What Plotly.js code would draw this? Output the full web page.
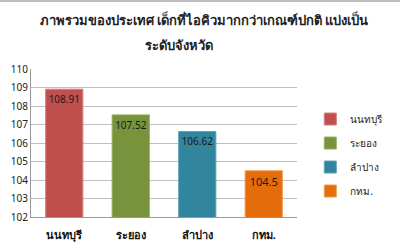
<!DOCTYPE html>
<html><head><meta charset="utf-8">
<script src="https://cdn.plot.ly/plotly-3.0.1.min.js"></script>
<style>html,body{margin:0;padding:0;background:#fff;}#chart{width:400px;height:250px;border-top:2px solid #bdbdbd;box-sizing:border-box;}</style>
</head><body><div id="chart"></div>
<script>
const categories = ["นนทบุรี", "ระยอง", "ลำปาง", "กทม."];
const values = [108.91, 107.52, 106.62, 104.5];
const labels = ["108.91", "107.52", "106.62", "104.5"];
const colors = ["#C0504D", "#77933C", "#31859C", "#E46C0A"];
const borders = ["#D67F7C", "#98B063", "#5FA5B8", "#F29A52"];
const yTicks = [102, 103, 104, 105, 106, 107, 108, 109, 110];
const titleLine1 = "ภาพรวมของประเทศ เด็กที่ไอคิวมากกว่าเกณฑ์ปกติ แบ่งเป็น";
const titleLine2 = "ระดับจังหวัด";

const traces = categories.map((c, i) => ({
  type: 'bar',
  x: [c], y: [values[i]],
  base: 0,
  name: c,
  legendgroup: 'g' + i,
  width: 0.56,
  marker: {color: colors[i], line: {color: borders[i], width: 1}},
  text: [labels[i]],
  textposition: 'inside',
  insidetextanchor: 'end',
  textangle: 0,
  textfont: {color: '#1a1a1a', size: 11, family: 'Noto Sans, DejaVu Sans, sans-serif'},
  hoverinfo: 'none'
}));

const layout = {
  width: 400, height: 248,
  margin: {l: 31, r: 62, t: 67, b: 33},
  paper_bgcolor: '#fff', plot_bgcolor: '#fff',
  font: {family: 'Noto Sans, DejaVu Sans, sans-serif', color: '#222'},
  title: {
    text: '<b>' + titleLine1 + '</b>',
    x: 0.51, xanchor: 'center', yref: 'container', y: 0.927, yanchor: 'middle',
    font: {size: 13, color: '#222'}
  },
  annotations: [{
    text: '<b>' + titleLine2 + '</b>', xref: 'paper', yref: 'paper',
    x: 0.555, y: 1.162, xanchor: 'center', yanchor: 'middle', showarrow: false,
    font: {size: 13, color: '#222'}
  }],
  barmode: 'overlay',
  showlegend: true,
  legend: {x: 1.05, xanchor: 'left', y: 0.76, yanchor: 'top', font: {size: 10, color: '#222'}, tracegroupgap: 5, itemwidth: 30},
  xaxis: {
    categoryorder: 'array', categoryarray: categories,
    showline: true, linecolor: '#999', linewidth: 1,
    ticks: '', tickfont: {size: 11, color: '#111'}, showgrid: false,
    ticklabelstandoff: 8,
    tickprefix: '<b>', ticksuffix: '</b>'
  },
  yaxis: {
    range: [102, 110], tickvals: yTicks,
    showline: true, linecolor: '#999', linewidth: 1,
    gridcolor: '#bfbfbf', gridwidth: 1,
    tickfont: {size: 10, color: '#222'}, ticks: '',
    tickprefix: '<b>', ticksuffix: '</b>', zeroline: false
  }
};
Plotly.newPlot('chart', traces, layout, {displayModeBar: false, staticPlot: true});
</script></body></html>
